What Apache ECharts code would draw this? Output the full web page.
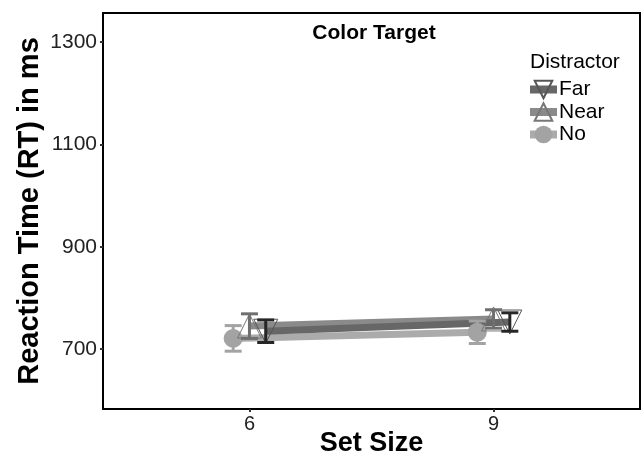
<!DOCTYPE html>
<html>
<head>
<meta charset="utf-8">
<script src="https://cdn.jsdelivr.net/npm/echarts@6/dist/echarts.min.js"></script>
<style>
  html, body { margin: 0; padding: 0; background: #fff; }
  #chart { width: 644px; height: 457px; }
</style>
</head>
<body>
<div id="chart"></div>
<script>
const setSizes = [6, 9];
const groups = ["Far", "Near", "No"];
const farMean = [735, 753];
const farErr = [22, 18];
const nearMean = [745, 759];
const nearErr = [24, 18];
const noMean = [721, 733];
const noErr = [25, 22];
const yTicks = [700, 900, 1100, 1300];

const FONT = "Liberation Sans, Arial, sans-serif";
// dodge offsets in set-size units
const dodge = { Far: 0.2, Near: 0, No: -0.2 };
const style = {
  Far: { line: "#676767", bar: "#262626", sym: "path://M0,0 L10,0 L5,10 Z", fill: "transparent", border: "#555", size: 24 },
  Near: { line: "#8a8a8a", bar: "#6f6f6f", sym: "path://M5,0 L10,10 L0,10 Z", fill: "transparent", border: "#777", size: 24 },
  No: { line: "#ababab", bar: "#a3a3a3", sym: "circle", fill: "#a3a3a3", border: "#a3a3a3", size: 19 },
};
const means = { Far: farMean, Near: nearMean, No: noMean };
const errs = { Far: farErr, Near: nearErr, No: noErr };

const series = [];
groups.slice().reverse().forEach((g) => {
  const s = style[g];
  series.push({
    name: g,
    type: "line",
    z: 2,
    data: setSizes.map((x, i) => [x + dodge[g], means[g][i]]),
    symbol: s.sym,
    symbolSize: s.size,
    lineStyle: { color: s.line, width: 7 },
    itemStyle: { color: s.fill, borderColor: s.border, borderWidth: g === "No" ? 0 : 1 },
    emphasis: { disabled: true },
  });
});
groups.slice().reverse().forEach((g) => {
  const s = style[g];
  series.push({
    name: g,
    type: "custom",
    z: 3,
    data: setSizes.map((x, i) => [x + dodge[g], means[g][i] - errs[g][i], means[g][i] + errs[g][i]]),
    renderItem: (params, api) => {
      const lo = api.coord([api.value(0), api.value(1)]);
      const hi = api.coord([api.value(0), api.value(2)]);
      const w = 8.5;
      const st = { stroke: s.bar, lineWidth: 3 };
      return {
        type: "group",
        children: [
          { type: "line", shape: { x1: lo[0], y1: lo[1], x2: hi[0], y2: hi[1] }, style: st },
          { type: "line", shape: { x1: lo[0] - w, y1: lo[1], x2: lo[0] + w, y2: lo[1] }, style: st },
          { type: "line", shape: { x1: hi[0] - w, y1: hi[1], x2: hi[0] + w, y2: hi[1] }, style: st },
        ],
      };
    },
  });
});

const chart = echarts.init(document.getElementById("chart"));
chart.setOption({
  animation: false,
  textStyle: { fontFamily: FONT },
  title: [
    {
      text: "Color Target",
      left: 369,
      top: 18,
      textAlign: "center",
      textStyle: { fontSize: 21, fontWeight: "bold", color: "#000", fontFamily: FONT },
    },
    {
      text: "Distractor",
      left: 525,
      top: 47,
      textStyle: { fontSize: 21, fontWeight: "normal", color: "#000", fontFamily: FONT },
    },
  ],
  legend: {
    data: groups,
    orient: "vertical",
    left: 521,
    top: 74,
    itemGap: 1.5,
    itemWidth: 27,
    itemHeight: 22,
    lineStyle: { width: 8 },
    textStyle: { fontSize: 21, color: "#000", fontFamily: FONT, padding: [0, 0, 0, -3] },
  },
  grid: {
    left: 103,
    right: 4,
    top: 13,
    bottom: 48,
    outerBoundsMode: "none",
    show: true,
    borderColor: "#000",
    borderWidth: 2,
    backgroundColor: "#fff",
  },
  xAxis: {
    type: "value",
    min: 4.2,
    max: 10.8,
    name: "Set Size",
    nameLocation: "middle",
    nameGap: 21,
    nameMoveOverlap: false,
    nameTextStyle: { fontSize: 27, fontWeight: "bold", color: "#000", fontFamily: FONT },
    axisLine: { show: false },
    splitLine: { show: false },
    axisTick: { show: true, customValues: setSizes, length: 3, lineStyle: { color: "#333", width: 2 } },
    axisLabel: { customValues: setSizes, margin: 5, fontSize: 20, color: "#222", fontFamily: FONT },
  },
  yAxis: {
    type: "value",
    min: 583,
    max: 1357,
    name: "Reaction Time (RT) in ms",
    nameLocation: "middle",
    nameGap: 59,
    nameMoveOverlap: false,
    nameTextStyle: { fontSize: 29, fontWeight: "bold", color: "#000", fontFamily: FONT },
    axisLine: { show: false },
    splitLine: { show: false },
    axisTick: { show: true, customValues: yTicks, length: 3, lineStyle: { color: "#333", width: 2 } },
    axisLabel: {
      customValues: yTicks,
      margin: 6,
      fontSize: 21,
      color: "#222",
      fontFamily: FONT,
      formatter: (v) => String(v),
    },
  },
  series: series,
});
</script>
</body>
</html>
